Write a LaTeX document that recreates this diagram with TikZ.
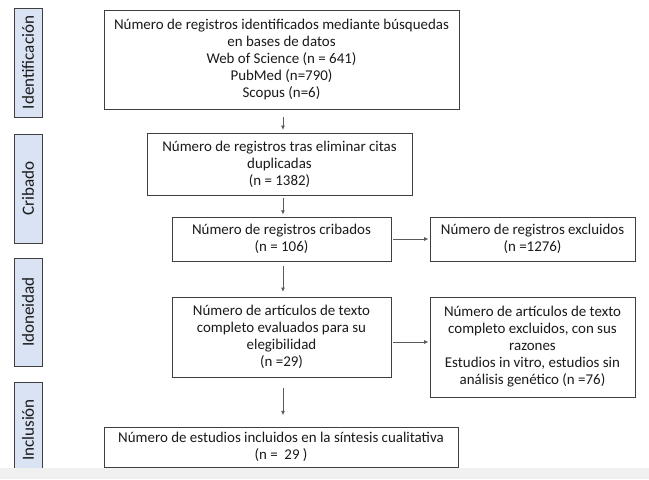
\documentclass[tikz,border=0pt]{standalone}
\usepackage{fontspec}
\setmainfont{Carlito}
\usetikzlibrary{arrows.meta,calc}
\definecolor{edgec}{HTML}{3F3F3F}
\definecolor{labc}{HTML}{DAE3F3}
\definecolor{arrc}{HTML}{5A5A5A}
\definecolor{txtc}{HTML}{1A1A1A}
\definecolor{stripc}{HTML}{F0F0F0}
\begin{document}
\begin{tikzpicture}[x=0.75pt,y=-0.75pt,
  mainbox/.style={draw=edgec, line width=0.7pt, fill=white, inner sep=0pt, align=center,
    text=txtc, font=\fontsize{11.2}{12.75}\selectfont},
  sidebox/.style={draw=edgec, line width=0.7pt, fill=labc, inner sep=0pt,
    minimum height={28*0.75pt}, text=txtc, font=\fontsize{12.8}{14}\selectfont, rotate=90},
  arr/.style={draw=arrc, line width=0.6pt, -{Latex[length=3.2pt,width=3pt]}}]
\useasboundingbox (0,0) rectangle (649,479);
\fill[white] (0,0) rectangle (649,479);
% side labels
\node[sidebox, minimum width={109*0.75pt}] (l1) at (28,62.5) {Identificación};
\node[sidebox, minimum width={109*0.75pt}] (l2) at (28,188.5) {Cribado};
\node[sidebox, minimum width={108*0.75pt}] (l3) at (28,312) {Idoneidad};
\node[sidebox, minimum width={96*0.75pt}] (l4) at (28,430) {Inclusión};
% main boxes
\node[mainbox, minimum width={355*0.75pt}, minimum height={99*0.75pt}] (b1) at (281.5,59.5)
  {Número de registros identificados mediante búsquedas\\en bases de datos\\Web of Science (n = 641)\\PubMed (n=790)\\Scopus (n=6)};
\node[mainbox, minimum width={265*0.75pt}, minimum height={62*0.75pt}] (b2) at (279.5,164)
  {Número de registros tras eliminar citas\\duplicadas\\(n = 1382)};
\node[mainbox, minimum width={219*0.75pt}, minimum height={44*0.75pt}] (b3) at (281.5,239)
  {Número de registros cribados\\(n = 106)};
\node[mainbox, minimum width={219*0.75pt}, minimum height={80*0.75pt}] (b4) at (281.5,337)
  {Número de artículos de texto\\completo evaluados para su\\elegibilidad\\(n =29)};
\node[mainbox, minimum width={354*0.75pt}, minimum height={40*0.75pt}] (b5) at (281,447)
  {Número de estudios incluidos en la síntesis cualitativa\\(n =~ 29 )};
\node[mainbox, minimum width={205*0.75pt}, minimum height={44*0.75pt}] (r1) at (532.5,239)
  {Número de registros excluidos\\(n =1276)};
\node[mainbox, minimum width={205*0.75pt}, minimum height={100*0.75pt}] (r2) at (532.5,347)
  {Número de artículos de texto\\completo excluidos, con sus\\razones\\Estudios in vitro, estudios sin\\análisis genético (n =76)};
% arrows
\draw[arr, shorten <=6pt, shorten >=2pt] ([xshift=1.1pt]b1.south) -- ([xshift=1.1pt]b1.south |- b2.north);
\draw[arr, shorten <=2.2pt, shorten >=1.5pt] ([xshift=1.1pt]b3.north |- b2.south) -- ([xshift=1.1pt]b3.north);
\draw[arr, shorten <=3.7pt, shorten >=3.5pt] ([xshift=1.1pt]b3.south) -- ([xshift=1.1pt]b4.north);
\draw[arr, shorten <=8pt, shorten >=8.5pt] ([xshift=1.1pt]b4.south) -- ([xshift=1.1pt]b4.south |- b5.north);
\draw[arr, shorten <=1.5pt, shorten >=0.8pt] (b3.east) -- (b3.east -| r1.west);
\draw[arr, shorten <=1.5pt, shorten >=0.8pt] ([yshift=-3.75pt]b4.east) -- ([yshift=-3.75pt]b4.east -| r2.west);
% bottom strip
\fill[stripc] (0,468) rectangle (649,479);
\end{tikzpicture}
\end{document}
